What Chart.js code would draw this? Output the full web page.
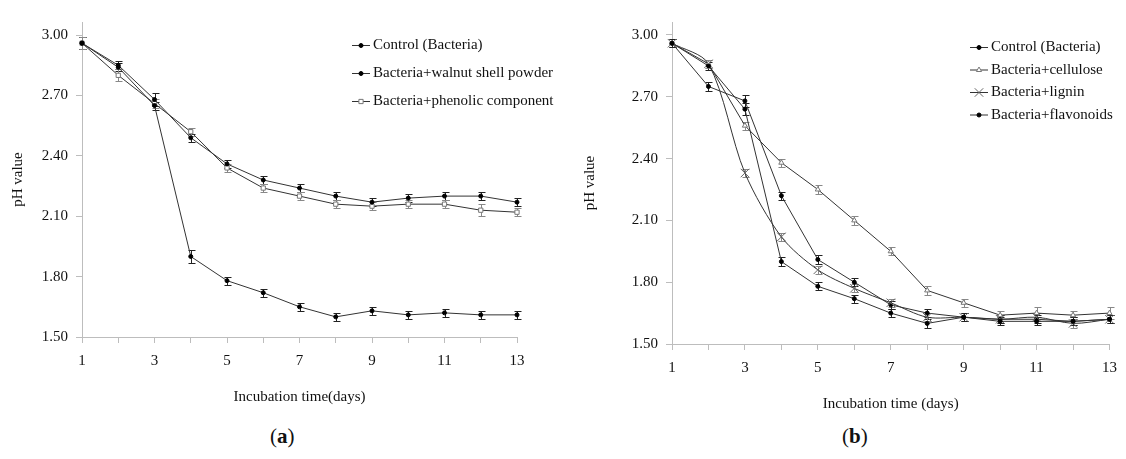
<!DOCTYPE html>
<html>
<head>
<meta charset="utf-8">
<script src="https://cdn.jsdelivr.net/npm/chart.js@4.4.1/dist/chart.umd.min.js"></script>
<style>
  body { margin: 0; background: #fff; width: 1126px; height: 459px; position: relative; overflow: hidden; font-family: "Liberation Serif", "Times New Roman", serif; }
  canvas { position: absolute; top: 0; }
  #chartA { left: 0; }
  #chartB { left: 575px; }
  .tag { position: absolute; top: 424px; font-size: 21px; color: #111; }
</style>
</head>
<body>
<canvas id="chartA" width="575" height="420"></canvas>
<canvas id="chartB" width="551" height="420"></canvas>
<div class="tag" style="left: 270px;">(<b>a</b>)</div>
<div class="tag" style="left: 842px;">(<b>b</b>)</div>
<script>
// x categories (days) and y ticks shared by both panels
const days = [1, 2, 3, 4, 5, 6, 7, 8, 9, 10, 11, 12, 13];
const yTicks = [1.50, 1.80, 2.10, 2.40, 2.70, 3.00];

// panel (a)
const aControl     = [2.96, 2.84, 2.65, 1.90, 1.78, 1.72, 1.65, 1.60, 1.63, 1.61, 1.62, 1.61, 1.61];
const aControlErr  = [0.03, 0.02, 0.02, 0.03, 0.02, 0.02, 0.02, 0.02, 0.02, 0.02, 0.02, 0.02, 0.02];
const aWalnut      = [2.96, 2.85, 2.68, 2.49, 2.36, 2.28, 2.24, 2.20, 2.17, 2.19, 2.20, 2.20, 2.17];
const aWalnutErr   = [0.03, 0.02, 0.03, 0.02, 0.02, 0.02, 0.02, 0.02, 0.02, 0.02, 0.02, 0.02, 0.02];
const aPhenolic    = [2.96, 2.80, 2.66, 2.52, 2.34, 2.24, 2.20, 2.16, 2.15, 2.16, 2.16, 2.13, 2.12];
const aPhenolicErr = [0.03, 0.03, 0.02, 0.02, 0.02, 0.02, 0.02, 0.02, 0.02, 0.02, 0.02, 0.03, 0.02];

// panel (b)
const bControl     = [2.96, 2.85, 2.64, 1.90, 1.78, 1.72, 1.65, 1.60, 1.63, 1.61, 1.61, 1.61, 1.62];
const bControlErr  = [0.02, 0.02, 0.03, 0.02, 0.02, 0.02, 0.02, 0.02, 0.02, 0.02, 0.02, 0.02, 0.02];
const bCellulose   = [2.96, 2.86, 2.56, 2.38, 2.25, 2.10, 1.95, 1.76, 1.70, 1.64, 1.65, 1.64, 1.65];
const bCelluloseEr = [0.02, 0.02, 0.02, 0.02, 0.02, 0.02, 0.02, 0.02, 0.02, 0.02, 0.03, 0.02, 0.03];
const bLignin      = [2.96, 2.86, 2.33, 2.02, 1.86, 1.77, 1.70, 1.63, 1.63, 1.62, 1.63, 1.60, 1.62];
const bLigninErr   = [0.02, 0.02, 0.02, 0.02, 0.02, 0.02, 0.02, 0.02, 0.02, 0.02, 0.02, 0.02, 0.02];
const bFlavonoids  = [2.96, 2.75, 2.68, 2.22, 1.91, 1.80, 1.69, 1.65, 1.63, 1.62, 1.62, 1.61, 1.62];
const bFlavonErr   = [0.02, 0.02, 0.03, 0.02, 0.02, 0.02, 0.02, 0.02, 0.02, 0.02, 0.02, 0.02, 0.02];

const serif = '"Liberation Serif", "Times New Roman", serif';
const axisGray = '#bdbdbd';

// vertical error bars with small caps, drawn under the markers
const errorBars = {
  id: 'errorBars',
  beforeDatasetsDraw(chart) {
    const ctx = chart.ctx;
    const yScale = chart.scales.y;
    chart.data.datasets.forEach((ds, i) => {
      const meta = chart.getDatasetMeta(i);
      ctx.save();
      ctx.strokeStyle = ds.errorColor;
      ctx.lineWidth = 1;
      meta.data.forEach((pt, j) => {
        const x = Math.round(pt.x) + 0.5;
        const top = Math.round(yScale.getPixelForValue(ds.data[j] + ds.errors[j])) + 0.5;
        const bot = Math.round(yScale.getPixelForValue(ds.data[j] - ds.errors[j])) + 0.5;
        ctx.beginPath();
        ctx.moveTo(x, top); ctx.lineTo(x, bot);
        ctx.moveTo(x - 3, top); ctx.lineTo(x + 4, top);
        ctx.moveTo(x - 3, bot); ctx.lineTo(x + 4, bot);
        ctx.stroke();
      });
      ctx.restore();
    });
  }
};

// legend drawn inside the plot: short line with the marker, then the label
const seriesKey = {
  id: 'seriesKey',
  afterDraw(chart, args, opts) {
    const ctx = chart.ctx;
    chart.data.datasets.forEach((ds, i) => {
      const y = opts.y + i * opts.gap + 0.5;
      ctx.save();
      ctx.strokeStyle = ds.borderColor;
      ctx.lineWidth = 1;
      ctx.beginPath();
      ctx.moveTo(opts.x, y);
      ctx.lineTo(opts.x + 18, y);
      ctx.stroke();
      ctx.fillStyle = ds.pointBackgroundColor;
      ctx.strokeStyle = ds.pointBorderColor;
      if (Chart.helpers && Chart.helpers.drawPoint) {
        Chart.helpers.drawPoint(ctx, { pointStyle: ds.pointStyle, radius: ds.pointRadius, rotation: 0, borderWidth: 1 }, opts.x + 9, y);
      }
      ctx.fillStyle = '#111';
      ctx.font = '15px ' + serif;
      ctx.textBaseline = 'middle';
      ctx.fillText(ds.label, opts.x + 21, y);
      ctx.restore();
    });
  }
};

function series(label, data, errors, look) {
  return Object.assign({
    label: label,
    data: data,
    errors: errors,
    borderColor: '#333',
    borderWidth: 1,
    tension: 0,
    clip: false,
    pointStyle: 'circle',
    pointRadius: 2,
    pointBorderWidth: 1,
    pointBackgroundColor: '#000',
    pointBorderColor: '#000',
    errorColor: '#222'
  }, look);
}

const hollowSquare = { pointStyle: 'rect', pointRadius: 3, pointBackgroundColor: '#fff', pointBorderColor: '#777', errorColor: '#888' };
const hollowTriangle = { pointStyle: 'triangle', pointRadius: 3, pointBackgroundColor: '#fff', pointBorderColor: '#777', errorColor: '#888' };
const crossMark = { pointStyle: 'crossRot', pointRadius: 6, pointBackgroundColor: '#777', pointBorderColor: '#666', errorColor: '#888', tension: 0.3 };

function makeChart(id, datasets, g) {
  return new Chart(document.getElementById(id).getContext('2d'), {
    type: 'line',
    data: { labels: days, datasets: datasets },
    plugins: [errorBars, seriesKey],
    options: {
      responsive: false,
      animation: false,
      layout: { padding: { left: 0, top: 22, right: g.right, bottom: 0 } },
      plugins: {
        legend: { display: false },
        tooltip: { enabled: false },
        seriesKey: g.key
      },
      scales: {
        x: {
          type: 'category',
          offset: false,
          afterFit: (s) => { s.height = g.xHeight; },
          border: { color: axisGray },
          grid: { drawOnChartArea: false, color: axisGray, tickLength: 6 },
          ticks: {
            autoSkip: false, maxRotation: 0, padding: 9,
            color: '#111', font: { family: serif, size: 15 },
            callback: (v, i) => (days[i] % 2 === 1 ? String(days[i]) : '')
          },
          title: {
            display: true, text: g.xTitle, color: '#111',
            font: { family: serif, size: 15 },
            padding: { top: 0, bottom: g.xTitlePad }
          }
        },
        y: {
          min: 1.5,
          max: g.yMax,
          afterFit: (s) => { s.width = g.yWidth; },
          afterBuildTicks: (s) => { s.ticks = yTicks.map(v => ({ value: v })); },
          border: { color: axisGray },
          grid: { drawOnChartArea: false, color: axisGray, tickLength: 6 },
          ticks: {
            padding: 8, color: '#111', font: { family: serif, size: 15 },
            callback: (v) => Number(v).toFixed(2)
          },
          title: {
            display: true, text: 'pH value', color: '#111',
            font: { family: serif, size: 15 },
            padding: { top: g.yTitlePad, bottom: 0 }
          }
        }
      }
    }
  });
}

makeChart('chartA', [
  series('Control (Bacteria)', aControl, aControlErr, {}),
  series('Bacteria+walnut shell powder', aWalnut, aWalnutErr, {}),
  series('Bacteria+phenolic component', aPhenolic, aPhenolicErr, hollowSquare)
], {
  right: 58, xHeight: 83, yWidth: 82, yMax: 3.065,
  xTitle: 'Incubation time(days)', xTitlePad: 14, yTitlePad: 9,
  key: { x: 352, y: 45, gap: 28 }
});

makeChart('chartB', [
  series('Control (Bacteria)', bControl, bControlErr, {}),
  series('Bacteria+cellulose', bCellulose, bCelluloseEr, hollowTriangle),
  series('Bacteria+lignin', bLignin, bLigninErr, crossMark),
  series('Bacteria+flavonoids', bFlavonoids, bFlavonErr, {})
], {
  right: 9, xHeight: 76, yWidth: 97, yMax: 3.063,
  xTitle: 'Incubation time (days)', xTitlePad: 7, yTitlePad: 6,
  key: { x: 395, y: 47, gap: 22.5 }
});
</script>
</body>
</html>
